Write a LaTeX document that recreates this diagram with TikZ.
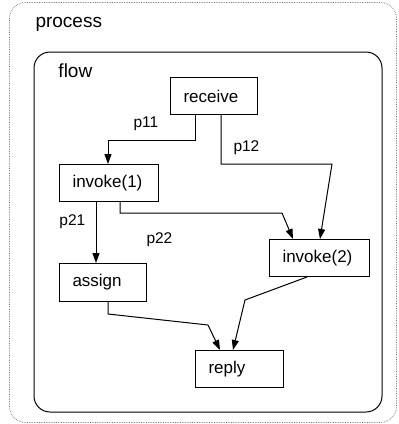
\documentclass[tikz,border=0pt]{standalone}
\usepackage{fontspec}
\setmainfont{Liberation Sans}
\usetikzlibrary{arrows.meta,calc}

\begin{document}
\begin{tikzpicture}[x=1pt,y=-1pt,line width=1pt,
  task/.style={draw,rectangle,anchor=north west,align=left,inner xsep=13pt,inner ysep=0pt,
    font=\fontsize{17}{20}\selectfont},
  lbl/.style={anchor=base west,inner sep=0pt,font=\fontsize{15.5}{18}\selectfont},
  title/.style={anchor=base west,inner sep=0pt,font=\fontsize{19}{22}\selectfont},
  arr/.style={-{Triangle[length=10pt,width=7pt]}}]

  \useasboundingbox (0,0) rectangle (399,424);

  % containers
  \draw[black!55,line width=0.7pt,densely dotted,rounded corners=16pt] (9.5,2.5) rectangle (396.5,422.5);
  \node[title] (proc) at (35,27) {process};
  \draw[rounded corners=16pt] (34,52) rectangle (382,412);
  \node[title] (flowlbl) at (58,77) {flow};

  % activities
  \node[task,text width=61pt,minimum height=37pt] (receive) at (170,77) {receive};
  \node[task,text width=73pt,minimum height=37pt] (invoke1) at (59,164) {invoke(1)};
  \node[task,text width=61pt,minimum height=38pt] (assign) at (59,263) {assign};
  \node[task,text width=74pt,minimum height=37pt] (invoke2) at (269,239) {invoke(2)};
  \node[task,text width=62pt,minimum height=37pt] (reply) at (195,350) {reply};

  % links
  \draw[arr] ([xshift=25pt]receive.south west) |- ([xshift=49pt,yshift=24pt]invoke1.north west)
    -- ([xshift=49pt]invoke1.north west);
  \draw[arr] ([xshift=51pt]receive.south west) |- ([xshift=63pt,yshift=75pt]invoke2.north west)
    -- ([xshift=51pt]invoke2.north west);
  \draw[arr] ([xshift=37pt]invoke1.south west) -- ([xshift=37pt]assign.north west);
  \draw[arr] ([xshift=61pt]invoke1.south west) |- ([xshift=13pt,yshift=26pt]invoke2.north west)
    -- ([xshift=24pt]invoke2.north west);
  \draw[arr] ([xshift=49pt]assign.south west) -- ([xshift=49pt,yshift=-12pt]assign.south west)
    -- ([xshift=13pt,yshift=25pt]reply.north west) -- ([xshift=25pt]reply.north west);
  \draw[arr] ([xshift=38pt]invoke2.south west) -- ([xshift=50pt,yshift=50pt]reply.north west)
    -- ([xshift=38pt]reply.north west);

  % link names
  \node[lbl] (l11) at (133,127) {p11};
  \node[lbl] (l12) at (233,151) {p12};
  \node[lbl] (l21) at (59,225) {p21};
  \node[lbl] (l22) at (146,243) {p22};
\end{tikzpicture}
\end{document}
